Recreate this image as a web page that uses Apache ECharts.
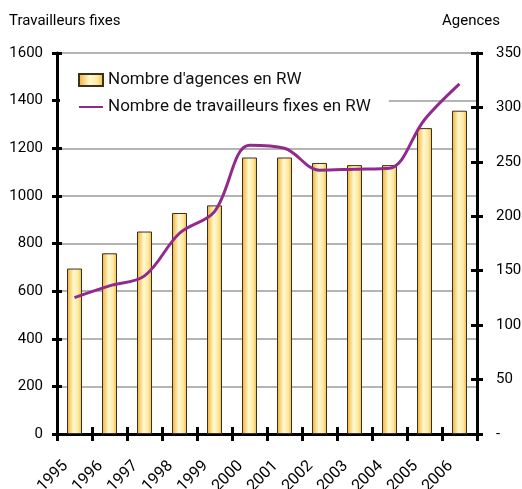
<!DOCTYPE html>
<html>
<head>
<meta charset="utf-8">
<script src="https://cdn.jsdelivr.net/npm/echarts@6/dist/echarts.min.js"></script>
<style>
  html, body { margin: 0; padding: 0; background: #fff; }
  #chart { width: 522px; height: 489px; }
</style>
</head>
<body>
<div id="chart"></div>
<script>
// données
const years = ['1995', '1996', '1997', '1998', '1999', '2000', '2001', '2002', '2003', '2004', '2005', '2006'];
const agences = [152, 166, 186, 203, 210, 254, 254, 249, 247, 247, 281, 297];
const travailleurs = [573, 622, 664, 843, 934, 1213, 1200, 1108, 1112, 1116, 1320, 1470];
const leftAxis = { min: 0, max: 1600, interval: 200 };
const rightAxis = { min: 0, max: 350, interval: 50 };

const font = 'Roboto';
const black = '#000';

const chart = echarts.init(document.getElementById('chart'));

const tick = (inside, len) => ({
  show: true,
  inside: inside,
  length: len,
  interval: 0,
  lineStyle: { color: black, width: 3 }
});

chart.setOption({
  animation: false,
  textStyle: { fontFamily: font },
  title: [
    { text: 'Travailleurs fixes', left: 9, top: 14, padding: 0,
      textStyle: { fontSize: 15, fontWeight: 'normal', color: black, fontFamily: font } },
    { text: 'Agences', right: 22, top: 14, padding: 0,
      textStyle: { fontSize: 15, fontWeight: 'normal', color: black, fontFamily: font } }
  ],
  grid: { left: 57, right: 45, top: 53, bottom: 55, containLabel: false, outerBoundsMode: 'none' },
  legend: {
    orient: 'vertical',
    left: 60,
    top: 63,
    backgroundColor: '#fff',
    padding: [8, 18, 8, 18],
    itemWidth: 24,
    itemHeight: 12,
    itemGap: 9,
    textStyle: { fontSize: 17, lineHeight: 18, color: '#111', fontFamily: font },
    data: [
      { name: "Nombre d'agences en RW", icon: 'rect' },
      // pas de rond sur la ligne de légende
      { name: 'Nombre de travailleurs fixes en RW', itemStyle: { opacity: 0 } }
    ]
  },
  xAxis: [
    {
      type: 'category',
      data: years,
      position: 'bottom',
      boundaryGap: true,
      axisLine: { show: true, lineStyle: { color: black, width: 3 } },
      axisTick: tick(true, 7),
      axisLabel: { show: false },
      splitLine: { show: false }
    },
    {
      // axe des étiquettes : années placées sur les graduations
      type: 'category',
      data: years.concat(['']),
      position: 'bottom',
      boundaryGap: false,
      axisLine: { show: false },
      axisTick: tick(false, 7),
      axisLabel: {
        interval: 0, rotate: 45, margin: 21, fontSize: 16, color: black,
        verticalAlign: 'top', lineHeight: 24
      },
      splitLine: { show: false }
    }
  ],
  yAxis: [
    {
      type: 'value',
      position: 'left',
      min: leftAxis.min, max: leftAxis.max, interval: leftAxis.interval,
      axisLine: { show: true, lineStyle: { color: black, width: 3 } },
      axisTick: tick(false, 5),
      axisLabel: { margin: 14, fontSize: 15, color: black, formatter: v => String(v) },
      splitLine: { show: true, lineStyle: { color: '#b4b4b4', width: 2 } }
    },
    {
      type: 'value',
      position: 'right',
      min: rightAxis.min, max: rightAxis.max, interval: rightAxis.interval,
      axisLine: { show: true, lineStyle: { color: black, width: 3 } },
      axisTick: tick(false, 6),
      axisLabel: {
        margin: 19, fontSize: 15, color: black,
        formatter: v => (v === 0 ? '-' : String(v))
      },
      splitLine: { show: false }
    },
    {
      type: 'value',
      position: 'left',
      min: leftAxis.min, max: leftAxis.max, interval: leftAxis.interval,
      axisLine: { show: false },
      axisTick: tick(true, 5),
      axisLabel: { show: false },
      splitLine: { show: false }
    },
    {
      type: 'value',
      position: 'right',
      min: rightAxis.min, max: rightAxis.max, interval: rightAxis.interval,
      axisLine: { show: false },
      axisTick: tick(true, 6),
      axisLabel: { show: false },
      splitLine: { show: false }
    }
  ],
  series: [
    {
      name: "Nombre d'agences en RW",
      type: 'bar',
      xAxisIndex: 0,
      yAxisIndex: 1,
      barWidth: 15,
      data: agences,
      itemStyle: {
        color: new echarts.graphic.LinearGradient(0, 0, 1, 0, [
          { offset: 0, color: '#f0ae2c' },
          { offset: 0.45, color: '#fffad2' },
          { offset: 0.75, color: '#fde9a0' },
          { offset: 1, color: '#f2b83e' }
        ]),
        borderColor: '#3b3020',
        borderWidth: 1
      }
    },
    {
      name: 'Nombre de travailleurs fixes en RW',
      type: 'line',
      xAxisIndex: 0,
      yAxisIndex: 0,
      smooth: 0.35,
      symbol: 'none',
      data: travailleurs,
      lineStyle: { color: '#922a8e', width: 3 },
      itemStyle: { color: '#922a8e' }
    }
  ]
});
</script>
</body>
</html>
